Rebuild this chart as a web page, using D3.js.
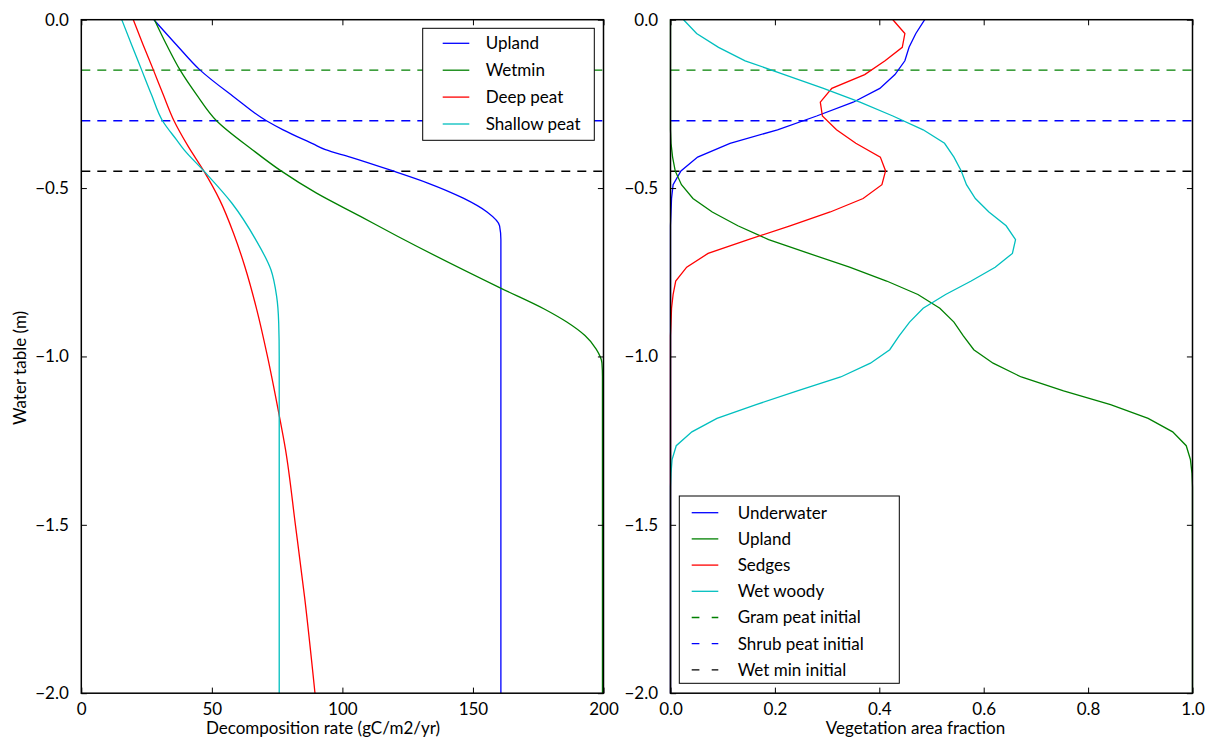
<!DOCTYPE html>
<html>
<head>
<meta charset="utf-8">
<script src="https://cdn.jsdelivr.net/npm/d3@7"></script>
<style>
  body { margin: 0; background: #fff; }
  svg text { font-family: Lato, "Open Sans", sans-serif; font-size: 17px; fill: #000; }
</style>
</head>
<body>
<svg id="chart"></svg>
<script>
// ---- left panel: decomposition rate vs water table ([rate, depth]) ----
const uplandRate = [[27.8,0],[36.5,-0.075],[45.4,-0.149],[58.2,-0.228],[70.9,-0.30],[77.3,-0.327],[88.8,-0.369],[93.5,-0.386],[103,-0.408],[118.5,-0.447],[132.7,-0.485],[146.3,-0.53],[155.4,-0.571],[160.2,-0.612],[160.7,-0.653],[160.7,-2]];
const wetminRate = [[28,0],[32.7,-0.075],[37.8,-0.149],[44.2,-0.223],[51.8,-0.30],[65.5,-0.386],[76.5,-0.449],[90.1,-0.515],[106.9,-0.584],[121.1,-0.643],[160.6,-0.797],[177.3,-0.859],[185.8,-0.897],[192.9,-0.938],[197.2,-0.978],[199.4,-1.019],[199.6,-1.06],[199.6,-2]];
const deepPeatRate = [[19.9,0],[23.7,-0.075],[27.6,-0.149],[31.4,-0.223],[35.5,-0.30],[41.0,-0.377],[46.9,-0.449],[53.0,-0.535],[58.3,-0.634],[62.6,-0.732],[67.2,-0.861],[71.3,-1.0],[75.6,-1.167],[78.2,-1.276],[82,-1.5],[85.6,-1.72],[89.5,-2]];
const shallowPeatRate = [[15.5,0],[19.3,-0.075],[23.1,-0.149],[26.9,-0.223],[31.1,-0.30],[36.5,-0.357],[39.3,-0.386],[46.9,-0.449],[57.7,-0.545],[66.8,-0.653],[72.6,-0.742],[74.8,-0.821],[75.6,-0.9],[75.8,-1.0],[75.8,-2]];

// ---- right panel: vegetation area fraction at sampled water table depths ----
const vegDepths = [0,-0.041,-0.082,-0.122,-0.163,-0.204,-0.245,-0.286,-0.327,-0.367,-0.408,-0.449,-0.49,-0.531,-0.571,-0.612,-0.653,-0.694,-0.735,-0.776,-0.816,-0.857,-0.898,-0.939,-0.98,-1.02,-1.061,-1.102,-1.143,-1.184,-1.224,-1.265,-1.306,-1.347,-1.388,-2.0];
const underwaterFrac = [0.487,0.47,0.457,0.449,0.43,0.401,0.35,0.28,0.205,0.114,0.052,0.02,0.005,0.002,0.001,0,0,0,0,0,0,0,0,0,0,0,0,0,0,0,0,0,0,0,0,0];
const uplandFrac = [0,0,0,0,0,0,0,0,0,0.001,0.004,0.009,0.021,0.043,0.08,0.129,0.188,0.265,0.343,0.414,0.474,0.516,0.543,0.561,0.581,0.618,0.672,0.753,0.843,0.915,0.962,0.988,0.996,0.999,1.0,1.0];
const sedgesFrac = [0.426,0.449,0.444,0.411,0.372,0.309,0.287,0.291,0.318,0.355,0.402,0.412,0.405,0.369,0.306,0.229,0.149,0.072,0.031,0.01,0.005,0.002,0.001,0,0,0,0,0,0,0,0,0,0,0,0,0];
const wetWoodyFrac = [0.025,0.05,0.092,0.143,0.218,0.293,0.363,0.426,0.484,0.525,0.543,0.557,0.567,0.584,0.61,0.643,0.661,0.655,0.622,0.576,0.527,0.484,0.458,0.438,0.42,0.383,0.326,0.243,0.164,0.089,0.041,0.011,0.003,0.001,0,0];

// initial water table levels (dashed reference lines)
const initialLevels = [
  { name: 'Gram peat initial', depth: -0.15, color: '#008000' },
  { name: 'Shrub peat initial', depth: -0.30, color: '#0000ff' },
  { name: 'Wet min initial', depth: -0.45, color: '#000000' }
];

const xTicksLeft = [0, 50, 100, 150, 200];
const xTicksRight = [0, 0.2, 0.4, 0.6, 0.8, 1.0];
const yTicks = [0, -0.5, -1.0, -1.5, -2.0];

const width = 1205, height = 738;
const plotTop = 19.7, plotBottom = 693.2;
const tickLen = 5.6;

const svg = d3.select('#chart')
  .attr('width', width)
  .attr('height', height);

svg.append('rect').attr('width', width).attr('height', height).attr('fill', '#fff');

const y = d3.scaleLinear().domain([-2, 0]).range([plotBottom, plotTop]);

// draws inward ticks on all sides and the tick labels
function drawAxes(x, xTicks, xFmt) {
  const [x0, x1] = x.range();

  svg.append('g')
    .attr('transform', `translate(0,${plotBottom})`)
    .call(d3.axisBottom(x).tickValues(xTicks).tickFormat(xFmt).tickSizeInner(-tickLen).tickSizeOuter(0).tickPadding(9.5))
    .call(g => g.select('.domain').remove());

  svg.append('g')
    .attr('transform', `translate(0,${plotTop})`)
    .call(d3.axisTop(x).tickValues(xTicks).tickFormat('').tickSizeInner(-tickLen).tickSizeOuter(0))
    .call(g => g.select('.domain').remove());

  svg.append('g')
    .attr('transform', `translate(${x0},0)`)
    .call(d3.axisLeft(y).tickValues(yTicks).tickFormat(d3.format('.1f')).tickSizeInner(-tickLen).tickSizeOuter(0).tickPadding(12.5))
    .call(g => g.select('.domain').remove());

  svg.append('g')
    .attr('transform', `translate(${x1},0)`)
    .call(d3.axisRight(y).tickValues(yTicks).tickFormat('').tickSizeInner(-tickLen).tickSizeOuter(0))
    .call(g => g.select('.domain').remove());

  svg.selectAll('.tick line').attr('stroke', '#000').attr('stroke-width', 1);
  svg.selectAll('.tick text').style('font-family', 'Lato, "Open Sans", sans-serif').style('font-size', '17px');
}

function drawFrame(x) {
  const [x0, x1] = x.range();
  svg.append('rect')
    .attr('x', x0).attr('y', plotTop)
    .attr('width', x1 - x0).attr('height', plotBottom - plotTop)
    .attr('fill', 'none')
    .attr('stroke', '#000')
    .attr('stroke-width', 1.5);
}

function drawInitialLevels(x) {
  const [x0, x1] = x.range();
  svg.selectAll(null)
    .data(initialLevels)
    .enter().append('line')
    .attr('x1', x0).attr('x2', x1)
    .attr('y1', d => y(d.depth)).attr('y2', d => y(d.depth))
    .attr('stroke', d => d.color)
    .attr('stroke-width', 1.3)
    .attr('stroke-dasharray', '9,7');
}

function drawLegend(items, box) {
  const lg = svg.append('g');
  lg.append('rect')
    .attr('x', box.x).attr('y', box.y)
    .attr('width', box.w).attr('height', box.h)
    .attr('fill', '#fff').attr('stroke', '#000').attr('stroke-width', 1);
  items.forEach((it, i) => {
    const cy = box.y + box.first + i * box.step;
    lg.append('line')
      .attr('x1', box.x + box.lineStart).attr('x2', box.x + box.lineStart + 26.6)
      .attr('y1', cy).attr('y2', cy)
      .attr('stroke', it.color).attr('stroke-width', 1.3)
      .attr('stroke-dasharray', it.dashed ? '7.7,12.3' : null);
    lg.append('text')
      .attr('x', box.x + box.textStart).attr('y', cy)
      .attr('dy', '0.35em')
      .text(it.name);
  });
}

// ---------------- left panel ----------------
const xLeft = d3.scaleLinear().domain([0, 200]).range([81.3, 603.5]);

drawInitialLevels(xLeft);

const leftLine = d3.line()
  .x(d => xLeft(d[0]))
  .y(d => y(d[1]))
  .curve(d3.curveMonotoneY);

const leftSeries = [
  { name: 'Upland', data: uplandRate, color: '#0000ff' },
  { name: 'Wetmin', data: wetminRate, color: '#008000' },
  { name: 'Deep peat', data: deepPeatRate, color: '#ff0000' },
  { name: 'Shallow peat', data: shallowPeatRate, color: '#00bfbf' }
];

svg.selectAll('.left-line')
  .data(leftSeries)
  .enter().append('path')
  .attr('class', 'left-line')
  .attr('d', d => leftLine(d.data))
  .attr('fill', 'none')
  .attr('stroke', d => d.color)
  .attr('stroke-width', 1.3);

drawAxes(xLeft, xTicksLeft, d3.format('d'));
drawFrame(xLeft);

svg.append('text')
  .attr('x', 323).attr('y', 734)
  .style('text-anchor', 'middle')
  .text('Decomposition rate (gC/m2/yr)');

svg.append('text')
  .attr('transform', 'translate(26,368) rotate(-90)')
  .style('text-anchor', 'middle')
  .text('Water table (m)');

drawLegend(leftSeries, { x: 422.7, y: 28.3, w: 171.6, h: 112, first: 15, step: 26.9, lineStart: 20, textStart: 63 });

// ---------------- right panel ----------------
const xRight = d3.scaleLinear().domain([0, 1]).range([670.5, 1192.5]);

drawInitialLevels(xRight);

const rightLine = d3.line()
  .x(d => xRight(d[0]))
  .y(d => y(d[1]));

const rightSeries = [
  { name: 'Underwater', values: underwaterFrac, color: '#0000ff' },
  { name: 'Upland', values: uplandFrac, color: '#008000' },
  { name: 'Sedges', values: sedgesFrac, color: '#ff0000' },
  { name: 'Wet woody', values: wetWoodyFrac, color: '#00bfbf' }
];

svg.selectAll('.right-line')
  .data(rightSeries)
  .enter().append('path')
  .attr('class', 'right-line')
  .attr('d', d => rightLine(d.values.map((v, i) => [v, vegDepths[i]])))
  .attr('fill', 'none')
  .attr('stroke', d => d.color)
  .attr('stroke-width', 1.3);

drawAxes(xRight, xTicksRight, d3.format('.1f'));
drawFrame(xRight);

svg.append('text')
  .attr('x', 915.5).attr('y', 734)
  .style('text-anchor', 'middle')
  .text('Vegetation area fraction');

const rightLegendItems = rightSeries.concat(initialLevels.map(d => ({ name: d.name, color: d.color, dashed: true })));
drawLegend(rightLegendItems, { x: 679.3, y: 496, w: 220, h: 187.3, first: 16.7, step: 26.2, lineStart: 12.4, textStart: 58.4 });
</script>
</body>
</html>
